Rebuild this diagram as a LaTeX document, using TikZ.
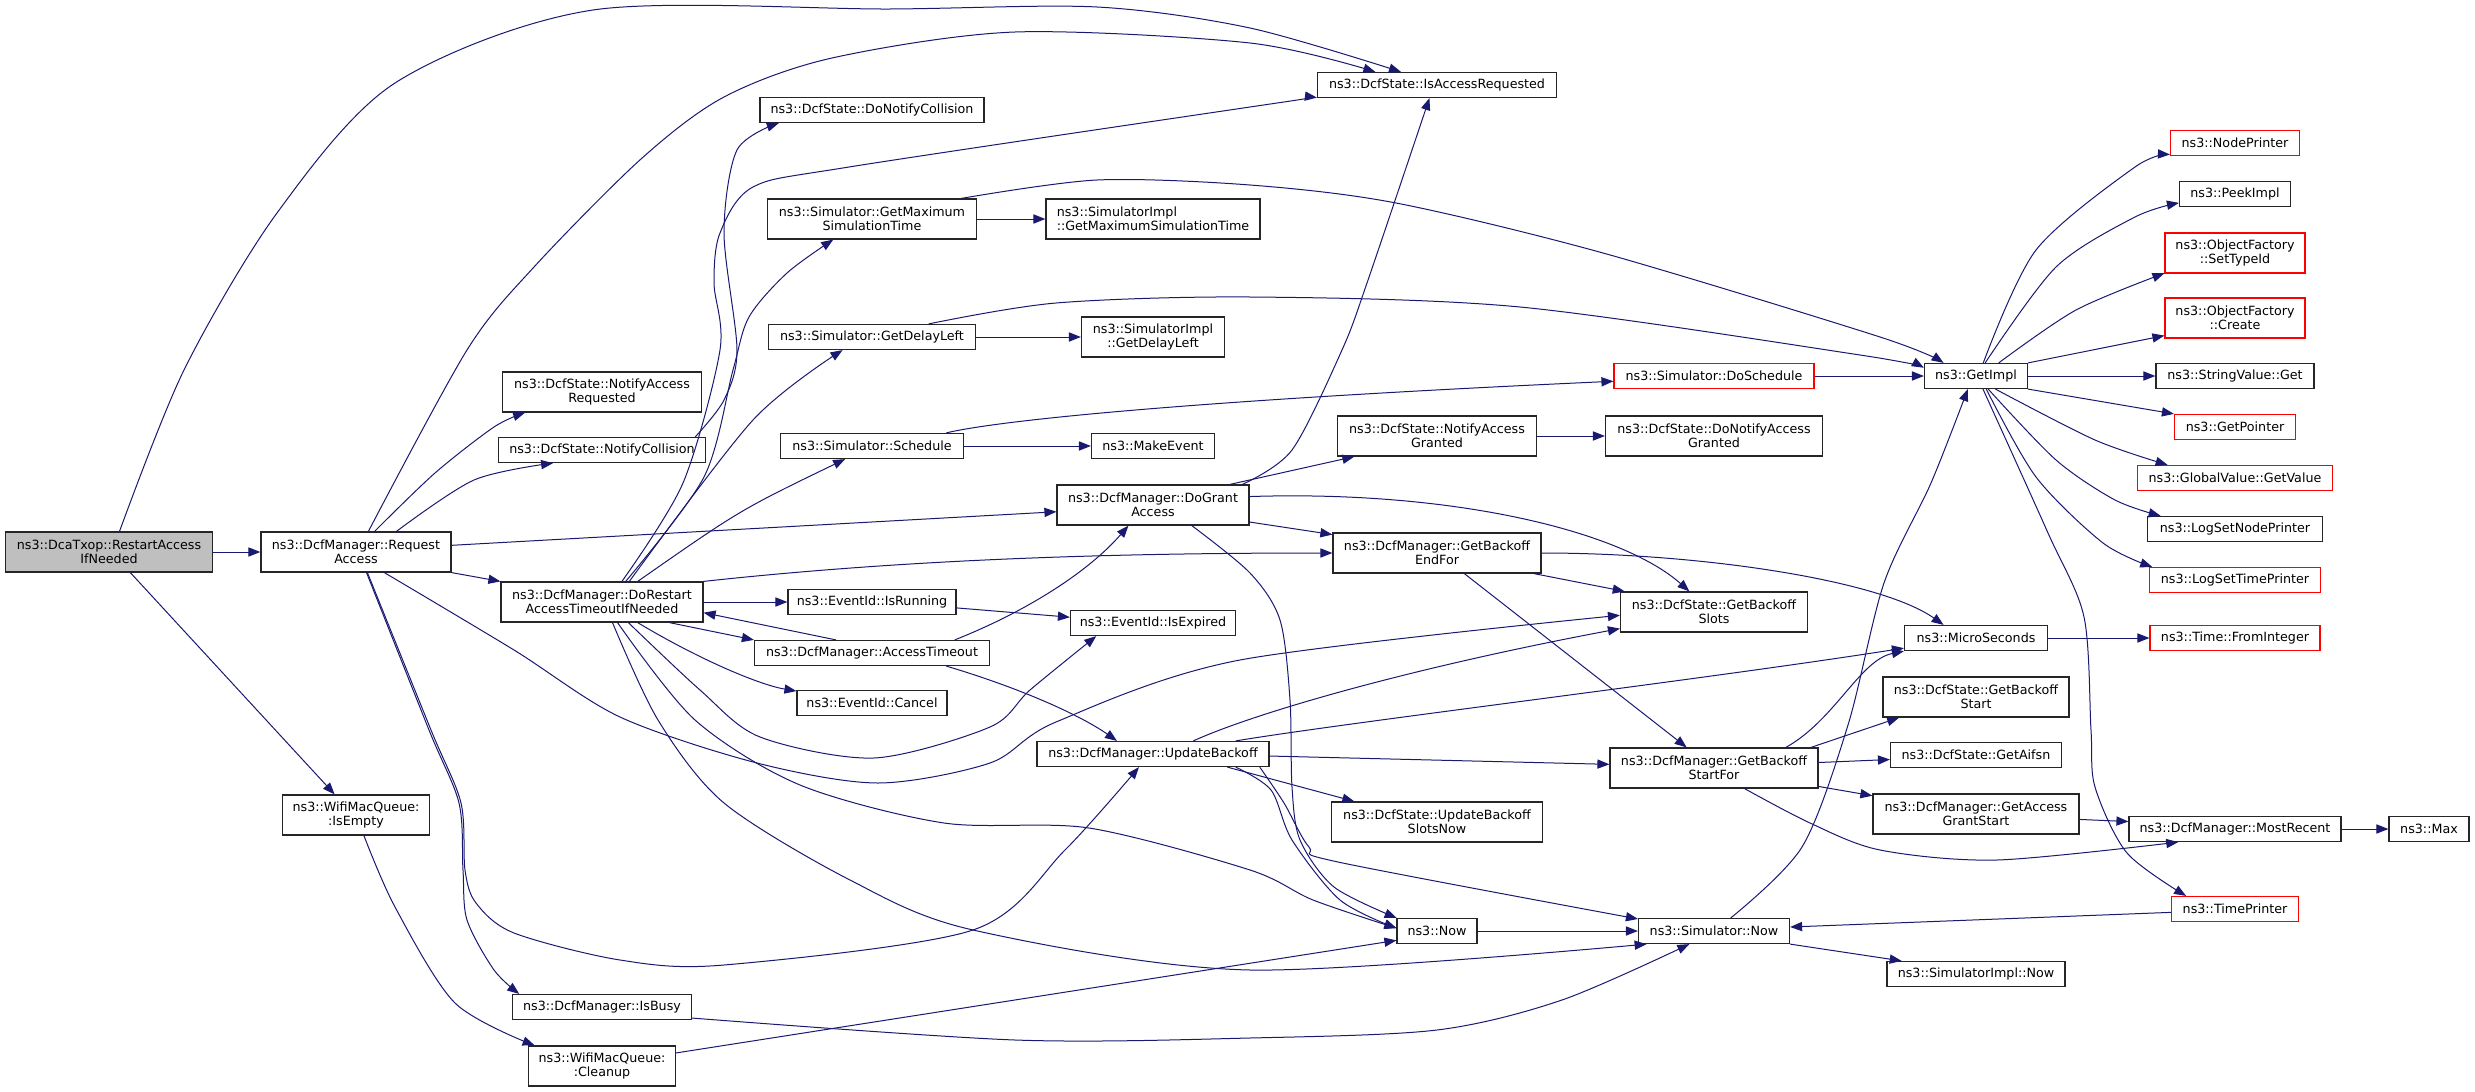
\documentclass[tikz,border=0pt]{standalone}
\usepackage{fontspec}
\setmainfont{DejaVu Sans}
\usetikzlibrary{arrows.meta}
\definecolor{edgeblue}{HTML}{191970}
\definecolor{rootgray}{HTML}{BFBFBF}
\newcommand{\fnfont}{\fontsize{6.35}{7}\selectfont}
\tikzset{
  fn/.style={draw=black!85, line width=0.6pt, fill=white, inner xsep=2pt, inner ysep=1pt,
    minimum height=12.5pt, align=center, font=\fnfont},
  fntwo/.style={fn, minimum height=20pt},
  undoc/.style={draw=red},
  root/.style={fill=rootgray},
  call/.style={draw=edgeblue, line width=0.5pt, -{Triangle[length=6pt,width=4.6pt]}},
}
\begin{document}
\begin{tikzpicture}[x=0.5pt,y=-0.5pt]
\useasboundingbox (0,0) rectangle (2475,1092);

\node[fntwo, root, minimum width=103.5pt] (ra) at (109,552) {ns3::DcaTxop::RestartAccess\\IfNeeded};
\node[fntwo, minimum width=95pt] (rq) at (356,552) {ns3::DcfManager::Request\\Access};
\node[fntwo, minimum width=73.5pt] (ie) at (356,815) {ns3::WifiMacQueue:\\:IsEmpty};

\node[fntwo, minimum width=99.5pt] (nar) at (602,392) {ns3::DcfState::NotifyAccess\\Requested};
\node[fn, minimum width=103.5pt] (nc) at (602,450) {ns3::DcfState::NotifyCollision};
\node[fntwo, minimum width=101pt] (dr) at (602,602) {ns3::DcfManager::DoRestart\\AccessTimeoutIfNeeded};
\node[fn, minimum width=89.5pt] (ib) at (602,1007) {ns3::DcfManager::IsBusy};
\node[fntwo, minimum width=73.5pt] (cu) at (602,1066) {ns3::WifiMacQueue:\\:Cleanup};

\node[fn, minimum width=112pt] (dnc) at (872,110) {ns3::DcfState::DoNotifyCollision};
\node[fntwo, minimum width=104.5pt] (gmst) at (872,219) {ns3::Simulator::GetMaximum\\SimulationTime};
\node[fn, minimum width=103.5pt] (gdl) at (872,337) {ns3::Simulator::GetDelayLeft};
\node[fn, minimum width=91.5pt] (sch) at (872,446) {ns3::Simulator::Schedule};
\node[fn, minimum width=84pt] (ir) at (872,602) {ns3::EventId::IsRunning};
\node[fn, minimum width=117.5pt] (at) at (872,653) {ns3::DcfManager::AccessTimeout};
\node[fn, minimum width=75pt] (cn) at (872,703) {ns3::EventId::Cancel};

\node[fntwo, minimum width=107pt, align=left] (sigmst) at (1153,219) {ns3::SimulatorImpl\\::GetMaximumSimulationTime};
\node[fntwo, minimum width=71.5pt] (sigdl) at (1153,337) {ns3::SimulatorImpl\\::GetDelayLeft};
\node[fn, minimum width=61.5pt] (me) at (1153,446) {ns3::MakeEvent};
\node[fntwo, minimum width=96pt] (dga) at (1153,505) {ns3::DcfManager::DoGrant\\Access};
\node[fn, minimum width=82.5pt] (ix) at (1153,623) {ns3::EventId::IsExpired};
\node[fn, minimum width=116pt] (ub) at (1153,754) {ns3::DcfManager::UpdateBackoff};

\node[fn, minimum width=119.5pt] (iar) at (1437,85) {ns3::DcfState::IsAccessRequested};
\node[fntwo, minimum width=99.5pt] (nag) at (1437,436) {ns3::DcfState::NotifyAccess\\Granted};
\node[fntwo, minimum width=104pt] (gbef) at (1437,553) {ns3::DcfManager::GetBackoff\\EndFor};
\node[fntwo, minimum width=105.5pt] (ubsn) at (1437,822) {ns3::DcfState::UpdateBackoff\\SlotsNow};
\node[fn, minimum width=40pt] (now) at (1437,931) {ns3::Now};

\node[fn, undoc, minimum width=100pt] (ds) at (1714,376) {ns3::Simulator::DoSchedule};
\node[fntwo, minimum width=108.5pt] (dnag) at (1714,436) {ns3::DcfState::DoNotifyAccess\\Granted};
\node[fntwo, minimum width=93.5pt] (gbs) at (1714,612) {ns3::DcfState::GetBackoff\\Slots};
\node[fntwo, minimum width=104pt] (gbsf) at (1714,768) {ns3::DcfManager::GetBackoff\\StartFor};
\node[fn, minimum width=75.5pt] (snow) at (1714,931) {ns3::Simulator::Now};

\node[fn, minimum width=51.5pt] (gi) at (1976,376) {ns3::GetImpl};
\node[fn, minimum width=71.5pt] (ms) at (1976,638) {ns3::MicroSeconds};
\node[fntwo, minimum width=93pt] (gbst) at (1976,697) {ns3::DcfState::GetBackoff\\Start};
\node[fn, minimum width=85.5pt] (ga) at (1976,755) {ns3::DcfState::GetAifsn};
\node[fntwo, minimum width=103pt] (gags) at (1976,814) {ns3::DcfManager::GetAccess\\GrantStart};
\node[fn, minimum width=89pt] (sin) at (1976,974) {ns3::SimulatorImpl::Now};

\node[fn, undoc, minimum width=64.5pt] (np) at (2235,143) {ns3::NodePrinter};
\node[fn, minimum width=55.5pt] (pi) at (2235,194) {ns3::PeekImpl};
\node[fntwo, undoc, minimum width=70pt] (ofs) at (2235,253) {ns3::ObjectFactory\\::SetTypeId};
\node[fntwo, undoc, minimum width=70pt] (ofc) at (2235,318) {ns3::ObjectFactory\\::Create};
\node[fn, minimum width=79pt] (svg) at (2235,376) {ns3::StringValue::Get};
\node[fn, undoc, minimum width=60.5pt] (gp) at (2235,427) {ns3::GetPointer};
\node[fn, undoc, minimum width=97.5pt] (gvg) at (2235,478) {ns3::GlobalValue::GetValue};
\node[fn, minimum width=87.5pt] (lsnp) at (2235,529) {ns3::LogSetNodePrinter};
\node[fn, undoc, minimum width=85.5pt] (lstp) at (2235,580) {ns3::LogSetTimePrinter};
\node[fn, undoc, minimum width=85pt] (tfi) at (2235,638) {ns3::Time::FromInteger};
\node[fn, minimum width=106pt] (mr) at (2235,829) {ns3::DcfManager::MostRecent};
\node[fn, undoc, minimum width=63.5pt] (tp) at (2235,909) {ns3::TimePrinter};
\node[fn, minimum width=40pt] (max) at (2429,829) {ns3::Max};

\draw[call] (ra) -- (rq);
\draw[call] plot[smooth] coordinates {(ra.63) (184,370) (277,213) (395,83) (593,10) (890,9) (1097,7) (1250,28) (iar.160)};
\draw[call] (ra.-44) -- (ie.136);
\draw[call] plot[smooth] coordinates {(ie.-69) (395,907) (455,1003) (cu.163)};

\draw[call] plot[smooth] coordinates {(rq.59) (467,350) (534,267) (641,159) (724,97) (832,58) (1015,32) (1250,43) (iar.168)};
\draw[call] plot[smooth] coordinates {(rq.48) (435,473) (494,427) (nar.195)};
\draw[call] plot[smooth] coordinates {(rq.27) (474,480) (nc.195)};
\draw[call] (rq.4) -- (dga.184);
\draw[call] (rq.south east) -- (dr.north west);
\draw[call] plot[smooth] coordinates {(rq.-36) (514,650) (620,717) (757,763) (878,783) (990,763) (1056,722) (1240,660) (gbs.182)};
\draw[call] plot[smooth] coordinates {(rq.-63) (429,730) (459,803) (463,870) (467,920) (494,970) (ib.171)};
\draw[call] plot[smooth] coordinates {(rq.-61) (431,730) (461,803) (465,870) (476,903) (514,933) (620,960) (724,965) (973,930) (1065,850) (ub.223)};

\draw[call] plot[smooth] coordinates {(nc.8) (724,400) (737,350) (724,233) (737,150) (dnc.188)};

\draw[call] plot[smooth] coordinates {(dr.46) (683,483) (720,350) (714,283) (720,233) (753,187) (849,167) (1250,107) (iar.186)};
\draw[call] plot[smooth] coordinates {(dr.41) (704,477) (733,370) (749,317) (787,273) (gmst.208)};
\draw[call] plot[smooth] coordinates {(dr.37) (753,420) (gdl.204)};
\draw[call] (dr.30) .. controls (740,510) .. (sch.206);
\draw[call] (dr) -- (ir);
\draw[call] (dr.-17) -- (at.north west);
\draw[call] (at.160) -- (dr.-6);
\draw[call] (dr.-30) .. controls (700,660) and (760,685) .. (cn.171);
\draw[call] plot[smooth] coordinates {(dr.-38) (700,690) (760,737) (874,758) (990,727) (1030,690) (ix.193)};
\draw[call] plot[smooth] coordinates {(dr.-53) (695,720) (800,785) (944,823) (1089,828) (1250,870) (1313,900) (now.176)};
\draw[call] plot[smooth] coordinates {(dr.-63) (658,720) (724,803) (850,880) (973,930) (1250,970) (snow.191)};
\draw[call] (dr.north east) .. controls (900,560) and (1100,553) .. (gbef.west);

\draw[call] (at.9) .. controls (1030,610) and (1090,570) .. (dga.220);
\draw[call] (at.-10) .. controls (1020,688) and (1080,715) .. (ub.160);
\draw[call] (ir.-4) -- (ix.176);
\draw[call] (sch) -- (me);
\draw[call] (sch.10) .. controls (1000,420) and (1200,400) .. (ds.183);
\draw[call] (gmst) -- (sigmst);
\draw[call] plot[smooth] coordinates {(gmst.13) (1097,180) (1250,185) (1396,203) (1603,253) (1880,337) (gi.158)};
\draw[call] (gdl) -- (sigdl);
\draw[call] plot[smooth] coordinates {(gdl.13) (1056,303) (1250,297) (1520,307) (1860,355) (gi.171)};
\draw[call] (ds) -- (gi);

\draw[call] plot[smooth] coordinates {(dga.13) (1292,450) (1342,350) (1367,283) (iar.240)};
\draw[call] (dga.15) -- (nag.194);
\draw[call] (dga.-10) -- (gbef.170);
\draw[call] (dga.5) .. controls (1450,490) and (1620,530) .. (gbs.140);
\draw[call] plot[smooth] coordinates {(dga.-28) (1250,573) (1280,620) (1290,700) (1292,787) (1300,840) (1334,887) (now.162)};
\draw[call] (nag) -- (dnag);

\draw[call] (gbef.-12) -- (gbs.167);
\draw[call] (gbef.east) .. controls (1700,553) and (1880,580) .. (ms.158);
\draw[call] (gbef.-37) -- (gbsf.143);

\draw[call] (ub.-1) -- (gbsf.178);
\draw[call] (ub.-10) -- (ubsn.166);
\draw[call] plot[smooth] coordinates {(ub.-9) (1271,790) (1292,840) (1340,900) (now.176)};
\draw[call] plot[smooth] coordinates {(ub.-7) (1284,803) (1309,847) (1338,862) (snow.171)};
\draw[call] (ub.18) .. controls (1250,715) and (1400,670) .. (gbs.190);
\draw[call] (ub.9) .. controls (1350,722) and (1700,680) .. (ms.188);

\draw[call] (gbsf.16) .. controls (1835,720) and (1860,660) .. (ms.south west);
\draw[call] (gbsf.12) -- (gbst.195);
\draw[call] (gbsf.3) -- (ga.183);
\draw[call] (gbsf.-10) -- (gags.170);
\draw[call] plot[smooth] coordinates {(gbsf.-34) (1810,823) (1880,850) (1997,860) (mr.193)};
\draw[call] (gags.-3) -- (mr.176);
\draw[call] (mr) -- (max);
\draw[call] (ms) -- (tfi);

\draw[call] (now) -- (snow);
\draw[call] plot[smooth] coordinates {(snow.38) (1802,847) (1848,725) (1884,583) (1931,483) (gi.238)};
\draw[call] (snow.south east) -- (sin.170);
\draw[call] (tp.183) -- (snow.3);
\draw[call] plot[smooth] coordinates {(ib.-7) (1015,1040) (1250,1038) (1437,1030) (1562,1000) (snow.208)};
\draw[call] (cu.10) -- (now.193);

\draw[call] plot[smooth] coordinates {(gi.-62) (2048,533) (2084,617) (2091,730) (2095,787) (2127,853) (tp.165)};
\draw[call] plot[smooth] coordinates {(gi.61) (2036,250) (2135,167) (np.190)};
\draw[call] plot[smooth] coordinates {(gi.55) (2056,267) (2135,217) (pi.189)};
\draw[call] plot[smooth] coordinates {(gi.30) (2076,310) (ofs.196)};
\draw[call] (gi.north east) -- (ofc.194);
\draw[call] (gi) -- (svg);
\draw[call] (gi.south east) -- (gp.north west);
\draw[call] plot[smooth] coordinates {(gi.-34) (2095,440) (gvg.169)};
\draw[call] plot[smooth] coordinates {(gi.-47) (2056,460) (2115,500) (lsnp.170)};
\draw[call] plot[smooth] coordinates {(gi.-52) (2036,477) (2103,543) (lstp.171)};
\end{tikzpicture}
\end{document}
